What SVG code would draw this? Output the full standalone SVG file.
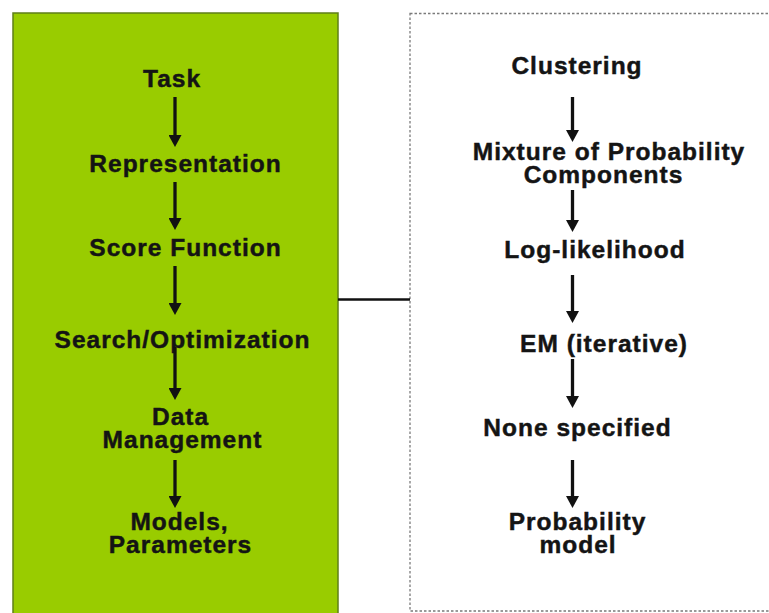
<svg xmlns="http://www.w3.org/2000/svg" width="769" height="613" viewBox="0 0 769 613">
  <style>
    .lbl { font-family: "Liberation Sans", Arial, sans-serif; font-weight: bold; font-size: 24.5px; letter-spacing: 1px; text-anchor: middle; fill: #141414; stroke: #141414; stroke-width: 0.45; }
    .shaft { stroke: #111; stroke-width: 3.3; fill: none; marker-end: url(#head); }
  </style>
  <defs>
    <marker id="head" viewBox="0 0 12 13" markerWidth="12" markerHeight="13" refX="4" refY="6.5" orient="auto" markerUnits="userSpaceOnUse">
      <path d="M0,0 L12,6.5 L0,13 Z" fill="#111"/>
    </marker>
  </defs>

  <rect width="769" height="613" fill="#ffffff"/>

  <!-- left panel: generic components -->
  <g id="panel-generic">
    <rect x="13" y="13" width="325" height="620" fill="#99cc00" stroke="#5f7f18" stroke-width="1.5"/>
  </g>

  <!-- right panel: clustering instance -->
  <g id="panel-clustering">
    <rect x="410" y="13.5" width="380" height="597.5" fill="#ffffff" stroke="#7a7a7a" stroke-width="1.3" stroke-dasharray="2.5 2"/>
  </g>

  <g id="task"><text class="lbl" x="172" y="87">Task</text></g>
  <g id="representation"><text class="lbl" x="185.5" y="172">Representation</text></g>
  <g id="score-function"><text class="lbl" x="185.5" y="256">Score Function</text></g>
  <g id="search-optimization"><text class="lbl" x="182.5" y="348">Search/Optimization</text></g>
  <g id="data-management">
    <text class="lbl" x="180.5" y="424.5">Data</text>
    <text class="lbl" x="182.5" y="448">Management</text>
  </g>
  <g id="models-parameters">
    <text class="lbl" x="179.5" y="529.5">Models,</text>
    <text class="lbl" x="180.5" y="553">Parameters</text>
  </g>

  <g id="clustering"><text class="lbl" x="577" y="74">Clustering</text></g>
  <g id="mixture">
    <text class="lbl" x="609" y="159.5">Mixture of Probability</text>
    <text class="lbl" x="603.5" y="183">Components</text>
  </g>
  <g id="log-likelihood"><text class="lbl" x="595" y="258">Log-likelihood</text></g>
  <g id="em"><text class="lbl" x="604" y="352">EM (iterative)</text></g>
  <g id="none-specified"><text class="lbl" x="577.5" y="436">None specified</text></g>
  <g id="probability-model">
    <text class="lbl" x="577.5" y="529.5">Probability</text>
    <text class="lbl" x="578" y="553">model</text>
  </g>

  <g id="connectors">
    <!-- left column -->
    <line class="shaft" x1="175" y1="97" x2="175" y2="139"/>
    <line class="shaft" x1="175" y1="182" x2="175" y2="222"/>
    <line class="shaft" x1="175" y1="266" x2="175" y2="307"/>
    <line class="shaft" x1="175" y1="347" x2="175" y2="392"/>
    <line class="shaft" x1="175" y1="460" x2="175" y2="500"/>
    <!-- right column -->
    <line class="shaft" x1="572.5" y1="97" x2="572.5" y2="134"/>
    <line class="shaft" x1="572.5" y1="190" x2="572.5" y2="224"/>
    <line class="shaft" x1="572.5" y1="275" x2="572.5" y2="315"/>
    <line class="shaft" x1="572.5" y1="359" x2="572.5" y2="400"/>
    <line class="shaft" x1="572.5" y1="460" x2="572.5" y2="500"/>
    <!-- link between panels -->
    <line x1="338" y1="299.5" x2="410" y2="299.5" stroke="#111" stroke-width="2.6"/>
  </g>
</svg>
